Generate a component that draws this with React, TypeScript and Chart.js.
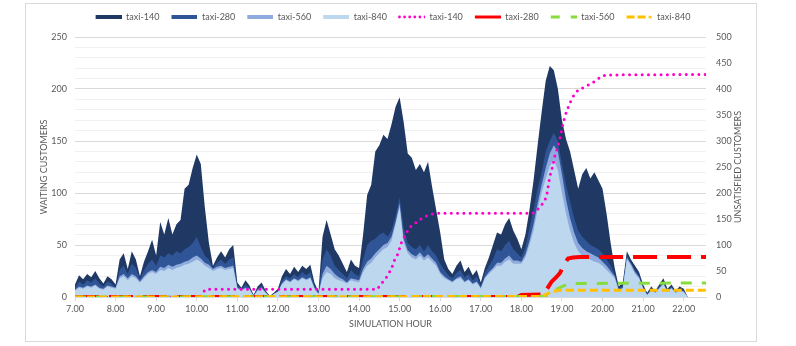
import React, { useEffect, useRef } from 'react';
import { Chart, registerables } from 'chart.js';

Chart.register(...registerables);

// ---- Waiting customers (left axis), one value every 0.1 hour starting at 7.0 ----
const START_HOUR = 7.0;
const STEP_HOURS = 0.1;

const WAIT_140 = [
  12, 21, 17, 22, 19, 25, 18, 13, 20, 17,
  12, 36, 42, 27, 44, 36, 20, 34, 44, 55,
  40, 72, 60, 76, 60, 70, 74, 104, 108, 124,
  137, 128, 86, 52, 30, 38, 44, 38, 46, 50,
  14, 9, 16, 11, 2, 10, 14, 6, 1, 4,
  8, 20, 27, 22, 29, 24, 30, 27, 31, 14,
  5, 58, 74, 60, 46, 40, 32, 24, 36, 30,
  28, 60, 98, 108, 140, 146, 156, 152, 166, 183,
  192, 168, 138, 134, 122, 128, 120, 130, 106, 84,
  62, 36, 27, 22, 30, 35, 24, 29, 21, 26,
  14, 28, 38, 50, 62, 60, 70, 76, 64, 56,
  46, 60, 84, 112, 146, 178, 208, 222, 218, 200,
  170, 152, 140, 122, 104, 118, 124, 114, 120, 112,
  104, 80, 52, 28, 10, 14, 44, 36, 30, 24,
  12, 4, 10, 6, 12, 18, 8, 12, 6, 10,
  8, 0,
];
const WAIT_280 = [
  9, 15, 12, 16, 14, 18, 13, 10, 15, 13,
  9, 26, 30, 22, 32, 28, 17, 26, 32, 36,
  30, 40, 38, 42, 40, 44, 42, 46, 48, 52,
  58, 48, 40, 36, 28, 33, 36, 32, 36, 38,
  11, 8, 12, 9, 2, 8, 11, 5, 1, 3,
  6, 16, 20, 18, 22, 19, 24, 21, 24, 11,
  4, 36, 46, 40, 30, 26, 22, 18, 26, 22,
  20, 36, 50, 54, 56, 60, 62, 58, 64, 78,
  96, 66, 52, 48, 46, 50, 44, 50, 44, 40,
  32, 26, 21, 18, 23, 26, 19, 22, 16, 20,
  11, 23, 30, 36, 46, 44, 50, 54, 46, 42,
  38, 48, 66, 84, 104, 120, 140, 150, 158, 150,
  128, 108, 92, 76, 64, 58, 54, 50, 48, 46,
  42, 36, 30, 22, 8, 11, 40, 33, 26, 21,
  10, 3, 8, 5, 10, 15, 6, 10, 5, 8,
  6, 0,
];
const WAIT_560 = [
  7, 10, 9, 11, 10, 12, 9, 8, 11, 10,
  9, 20, 22, 18, 22, 20, 15, 20, 24, 26,
  24, 29, 28, 31, 29, 31, 32, 34, 35, 38,
  40, 37, 33, 31, 27, 29, 30, 28, 29, 30,
  9, 7, 9, 8, 1, 7, 9, 4, 0, 3,
  5, 13, 17, 15, 18, 16, 19, 17, 19, 9,
  3, 22, 30, 27, 22, 19, 17, 14, 18, 17,
  16, 27, 34, 37, 42, 46, 50, 52, 58, 72,
  90, 56, 45, 41, 39, 43, 38, 41, 37, 33,
  24, 20, 17, 15, 18, 20, 15, 17, 13, 15,
  9, 19, 24, 28, 33, 33, 37, 40, 35, 35,
  34, 41, 54, 70, 90, 108, 124, 138, 146, 140,
  118, 94, 76, 62, 52, 47, 44, 42, 40, 38,
  34, 30, 25, 20, 7, 9, 38, 32, 24, 19,
  9, 2, 7, 4, 9, 13, 5, 9, 4, 7,
  5, 0,
];
const WAIT_840 = [
  6, 9, 8, 10, 9, 11, 8, 7, 10, 9,
  8, 18, 20, 16, 20, 18, 14, 18, 22, 24,
  22, 26, 25, 28, 26, 28, 29, 31, 32, 34,
  36, 34, 30, 28, 25, 27, 28, 26, 27, 28,
  8, 6, 8, 7, 1, 6, 8, 4, 0, 3,
  5, 12, 16, 14, 17, 15, 18, 16, 18, 8,
  3, 18, 24, 22, 18, 16, 15, 13, 16, 15,
  14, 24, 30, 33, 38, 42, 46, 48, 54, 70,
  86, 52, 42, 38, 36, 40, 35, 38, 34, 30,
  22, 18, 16, 14, 17, 18, 14, 16, 12, 14,
  8, 18, 22, 26, 30, 30, 34, 36, 32, 32,
  32, 38, 50, 64, 84, 100, 114, 126, 132, 122,
  100, 80, 64, 52, 44, 40, 38, 36, 34, 33,
  30, 26, 22, 18, 6, 8, 36, 30, 22, 18,
  8, 2, 6, 4, 8, 12, 5, 8, 4, 6,
  5, 0,
];

// ---- Unsatisfied customers (right axis): hour / value pairs ----
const UNSAT_140_X = [7.0, 10.08, 10.15, 10.22, 14.45, 14.51, 14.66, 14.73, 14.8, 14.88, 14.95, 15.0, 15.05, 15.13, 15.21, 15.29, 15.42, 15.54, 15.66, 15.83, 15.99, 18.28, 18.41, 18.53, 18.62, 18.66, 18.7, 18.77, 18.82, 18.9, 18.96, 19.01, 19.07, 19.13, 19.19, 19.27, 19.4, 19.56, 19.73, 19.85, 19.97, 20.1, 22.55];
const UNSAT_140_Y = [0, 0, 8, 15, 15, 22, 36, 45, 55, 72, 82, 94, 106, 118, 129, 137, 144, 151, 156, 160, 161, 161, 169, 180, 193, 212, 231, 251, 270, 289, 308, 327, 347, 360, 372, 385, 398, 404, 411, 417, 424, 427, 428];
const UNSAT_280_X = [7.0, 17.9, 18.0, 18.55, 18.66, 18.74, 18.86, 18.95, 19.07, 19.15, 19.27, 19.44, 22.55];
const UNSAT_280_Y = [0, 0, 4, 5, 19, 29, 38, 46, 65, 74, 76, 77, 77];
const UNSAT_560_X = [7.0, 18.55, 18.7, 18.86, 19.0, 19.19, 22.55];
const UNSAT_560_Y = [0, 1, 6, 15, 20, 26, 27];
const UNSAT_840_X = [7.0, 18.5, 18.66, 18.9, 22.55];
const UNSAT_840_Y = [0, 1, 7, 13, 13];

const SERIES_LABELS = ['taxi-140', 'taxi-280', 'taxi-560', 'taxi-840'];
const X_TITLE = 'SIMULATION HOUR';
const Y_TITLE = 'WAITING CUSTOMERS';
const Y2_TITLE = 'UNSATISFIED CUSTOMERS';

const AREA_COLORS = ['#1F3864', '#2F5597', '#8FAADC', '#BDD7EE'];
const LINE_COLORS = ['#FF00CC', '#FF0000', '#86DC3C', '#FFC000'];
const TEXT_COLOR = '#595959';
const FONT = 'Lato, "Open Sans", sans-serif';

const toPoints = (vals: number[]) =>
  vals.map((v, i) => ({ x: Math.round((START_HOUR + i * STEP_HOURS) * 100) / 100, y: v }));
const pairPoints = (xs: number[], ys: number[]) => xs.map((x, i) => ({ x, y: ys[i] }));

function makeSwatch(draw: (ctx: CanvasRenderingContext2D) => void) {
  const c = document.createElement('canvas');
  c.width = 30;
  c.height = 8;
  const ctx = c.getContext('2d')!;
  draw(ctx);
  return c;
}

export default function App() {
  const ref = useRef<HTMLCanvasElement | null>(null);

  useEffect(() => {
    if (!ref.current) return;

    const areaSw = AREA_COLORS.map((col) =>
      makeSwatch((ctx) => {
        ctx.fillStyle = col;
        ctx.fillRect(4, 2, 26, 4);
      })
    );
    const pinkSw = makeSwatch((ctx) => {
      ctx.fillStyle = LINE_COLORS[0];
      for (let i = 0; i < 6; i++) {
        ctx.beginPath();
        ctx.arc(4.5 + i * 5.1, 4, 1.4, 0, Math.PI * 2);
        ctx.fill();
      }
    });
    const redSw = makeSwatch((ctx) => {
      ctx.strokeStyle = LINE_COLORS[1];
      ctx.lineWidth = 3;
      ctx.beginPath();
      ctx.moveTo(4, 4);
      ctx.lineTo(30, 4);
      ctx.stroke();
    });
    const greenSw = makeSwatch((ctx) => {
      ctx.strokeStyle = LINE_COLORS[2];
      ctx.lineWidth = 3;
      ctx.beginPath();
      ctx.moveTo(4, 4);
      ctx.lineTo(13, 4);
      ctx.moveTo(24, 4);
      ctx.lineTo(30, 4);
      ctx.stroke();
    });
    const orangeSw = makeSwatch((ctx) => {
      ctx.strokeStyle = LINE_COLORS[3];
      ctx.fillStyle = LINE_COLORS[3];
      ctx.lineWidth = 3;
      ctx.beginPath();
      ctx.moveTo(4, 4);
      ctx.lineTo(12, 4);
      ctx.moveTo(15, 4);
      ctx.lineTo(23, 4);
      ctx.stroke();
      ctx.beginPath();
      ctx.arc(27.5, 4, 1.5, 0, Math.PI * 2);
      ctx.fill();
    });
    const swatches = [...areaSw, pinkSw, redSw, greenSw, orangeSw];

    const waits = [WAIT_140, WAIT_280, WAIT_560, WAIT_840];
    const unsat = [
      pairPoints(UNSAT_140_X, UNSAT_140_Y),
      pairPoints(UNSAT_280_X, UNSAT_280_Y),
      pairPoints(UNSAT_560_X, UNSAT_560_Y),
      pairPoints(UNSAT_840_X, UNSAT_840_Y),
    ];
    const lineStyles = [
      { width: 3, dash: [0, 6.3], cap: 'round' },
      { width: 4, dash: [24, 10], cap: 'butt' },
      { width: 3, dash: [11, 10], cap: 'butt' },
      { width: 3, dash: [8, 4], cap: 'butt' },
    ];

    const datasets: any[] = [];
    waits.forEach((w, i) => {
      datasets.push({
        type: 'line',
        label: SERIES_LABELS[i],
        data: toPoints(w),
        yAxisID: 'y',
        backgroundColor: AREA_COLORS[i],
        borderColor: AREA_COLORS[i],
        borderWidth: 0,
        fill: 'origin',
        pointRadius: 0,
        tension: 0,
        order: 10 - i,
      });
    });
    unsat.forEach((pts, i) => {
      datasets.push({
        type: 'line',
        label: SERIES_LABELS[i],
        data: pts,
        yAxisID: 'y2',
        borderColor: LINE_COLORS[i],
        backgroundColor: LINE_COLORS[i],
        borderWidth: lineStyles[i].width,
        borderDash: lineStyles[i].dash,
        borderCapStyle: lineStyles[i].cap,
        fill: false,
        pointRadius: 0,
        tension: 0,
        order: 4 - i,
      });
    });

    const rightTitle = {
      id: 'rightTitle',
      afterDraw(chart: any) {
        const { ctx, chartArea } = chart;
        const s = chart.scales.y2;
        ctx.save();
        ctx.font = `9px ${FONT}`;
        ctx.fillStyle = TEXT_COLOR;
        ctx.textAlign = 'center';
        ctx.textBaseline = 'middle';
        ctx.translate(s.right - 18, (chartArea.top + chartArea.bottom) / 2);
        ctx.rotate(-Math.PI / 2);
        ctx.fillText(Y2_TITLE, 0, 0);
        ctx.restore();
      },
    };

    const chart = new Chart(ref.current, {
      type: 'line',
      data: { datasets },
      plugins: [rightTitle],
      options: {
        animation: false,
        responsive: false,
        devicePixelRatio: 1,
        events: [],
        layout: { padding: { top: 0.5, left: 0, right: 0, bottom: 0 } },
        plugins: {
          tooltip: { enabled: false },
          title: {
            display: true,
            text: '',
            position: 'top',
            weight: 500,
            padding: { top: 5.5, bottom: 0 },
            font: { size: 1, lineHeight: 0 },
          } as any,
          legend: {
            position: 'top',
            labels: {
              usePointStyle: true,
              pointStyleWidth: 30,
              padding: 8,
              color: TEXT_COLOR,
              font: { size: 9, family: FONT },
              sort: (a: any, b: any) => a.datasetIndex - b.datasetIndex,
              generateLabels: (ch: any) =>
                ch.data.datasets.map((ds: any, i: number) => ({
                  text: ds.label,
                  fillStyle: 'transparent',
                  strokeStyle: 'transparent',
                  lineWidth: 0,
                  pointStyle: swatches[i],
                  hidden: false,
                  datasetIndex: i,
                  fontColor: TEXT_COLOR,
                })),
            },
          },
        },
        scales: {
          x: {
            type: 'linear',
            min: 7,
            max: 22.55,
            afterFit: (s: any) => {
              s.height = 44;
            },
            ticks: {
              stepSize: 1,
              includeBounds: false,
              autoSkip: false,
              maxRotation: 0,
              padding: 3,
              color: TEXT_COLOR,
              font: { size: 9, family: FONT },
              callback: (v: any) => Number(v).toFixed(2),
            },
            grid: {
              drawOnChartArea: false,
              drawTicks: true,
              tickLength: 4,
              color: '#d9d9d9',
            },
            border: { display: true, color: '#d9d9d9' },
            title: {
              display: true,
              text: X_TITLE,
              color: TEXT_COLOR,
              font: { size: 9, family: FONT },
              padding: { top: 0, bottom: 12 },
            },
          },
          y: {
            type: 'linear',
            position: 'left',
            min: 0,
            max: 250,
            afterFit: (s: any) => {
              s.width = 49;
            },
            ticks: {
              stepSize: 10,
              autoSkip: false,
              padding: 8,
              color: TEXT_COLOR,
              font: { size: 9, family: FONT },
              callback: (v: any) => (Number(v) % 50 === 0 ? String(v) : ''),
            },
            grid: {
              drawTicks: false,
              color: (c: any) => (c.tick && c.tick.value % 50 === 0 ? '#d9d9d9' : '#f0f0f0'),
            },
            border: { display: false },
            title: {
              display: true,
              text: Y_TITLE,
              color: TEXT_COLOR,
              font: { size: 9, family: FONT },
              padding: { top: 13, bottom: 0 },
            },
          },
          y2: {
            type: 'linear',
            position: 'right',
            min: 0,
            max: 500,
            afterFit: (s: any) => {
              s.width = 50;
            },
            ticks: {
              stepSize: 50,
              autoSkip: false,
              padding: 10,
              color: TEXT_COLOR,
              font: { size: 9, family: FONT },
            },
            grid: { drawOnChartArea: false, drawTicks: false },
            border: { display: false },
          },
        },
      },
    } as any);

    return () => chart.destroy();
  }, []);

  return (
    <div
      style={{
        position: 'absolute',
        left: 25,
        top: 3,
        width: 732,
        height: 339,
        border: '1px solid #d9d9d9',
        boxSizing: 'border-box',
        background: '#fff',
      }}
    >
      <canvas ref={ref} width={730} height={337} style={{ display: 'block', width: 730, height: 337 }} />
    </div>
  );
}
